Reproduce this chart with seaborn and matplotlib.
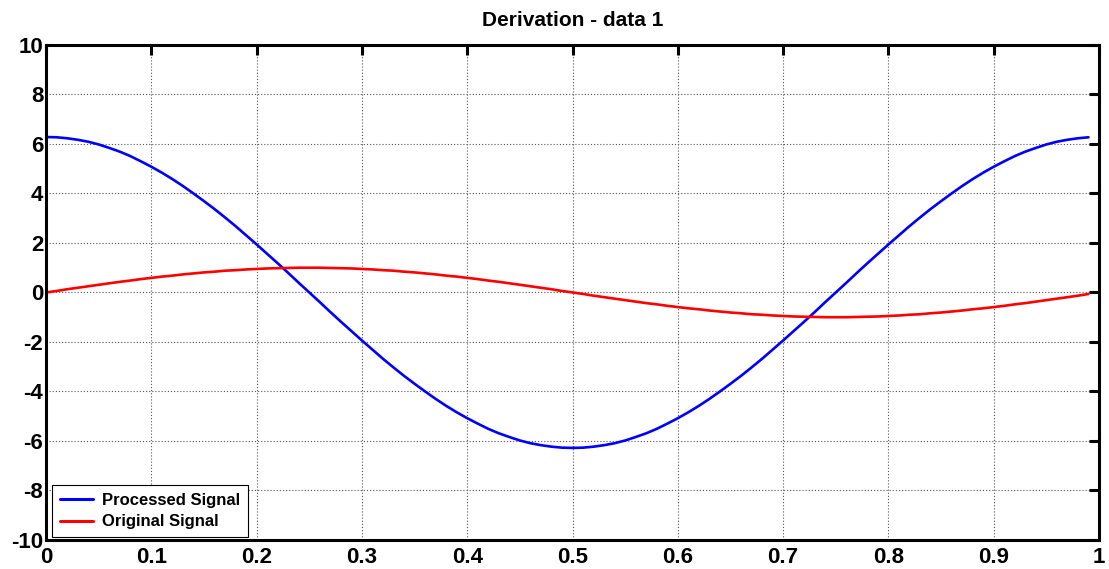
import numpy as np
import pandas as pd
import matplotlib
matplotlib.use("Agg")
import matplotlib.pyplot as plt
import seaborn as sns

# Sample times (s)
time = [0.00, 0.01, 0.02, 0.03, 0.04, 0.05, 0.06, 0.07, 0.08, 0.09,
        0.10, 0.11, 0.12, 0.13, 0.14, 0.15, 0.16, 0.17, 0.18, 0.19,
        0.20, 0.21, 0.22, 0.23, 0.24, 0.25, 0.26, 0.27, 0.28, 0.29,
        0.30, 0.31, 0.32, 0.33, 0.34, 0.35, 0.36, 0.37, 0.38, 0.39,
        0.40, 0.41, 0.42, 0.43, 0.44, 0.45, 0.46, 0.47, 0.48, 0.49,
        0.50, 0.51, 0.52, 0.53, 0.54, 0.55, 0.56, 0.57, 0.58, 0.59,
        0.60, 0.61, 0.62, 0.63, 0.64, 0.65, 0.66, 0.67, 0.68, 0.69,
        0.70, 0.71, 0.72, 0.73, 0.74, 0.75, 0.76, 0.77, 0.78, 0.79,
        0.80, 0.81, 0.82, 0.83, 0.84, 0.85, 0.86, 0.87, 0.88, 0.89,
        0.90, 0.91, 0.92, 0.93, 0.94, 0.95, 0.96, 0.97, 0.98, 0.99]

# Input signal
original = [0.00, 0.06, 0.13, 0.19, 0.25, 0.31, 0.37, 0.43, 0.48, 0.54,
            0.59, 0.64, 0.68, 0.73, 0.77, 0.81, 0.84, 0.88, 0.90, 0.93,
            0.95, 0.97, 0.98, 0.99, 1.00, 1.00, 1.00, 0.99, 0.98, 0.97,
            0.95, 0.93, 0.90, 0.88, 0.84, 0.81, 0.77, 0.73, 0.68, 0.64,
            0.59, 0.54, 0.48, 0.43, 0.37, 0.31, 0.25, 0.19, 0.13, 0.06,
            0.00, -0.06, -0.13, -0.19, -0.25, -0.31, -0.37, -0.43, -0.48, -0.54,
            -0.59, -0.64, -0.68, -0.73, -0.77, -0.81, -0.84, -0.88, -0.90, -0.93,
            -0.95, -0.97, -0.98, -0.99, -1.00, -1.00, -1.00, -0.99, -0.98, -0.97,
            -0.95, -0.93, -0.90, -0.88, -0.84, -0.81, -0.77, -0.73, -0.68, -0.64,
            -0.59, -0.54, -0.48, -0.43, -0.37, -0.31, -0.25, -0.19, -0.13, -0.06]

# Derivative of the input signal
processed = [6.28, 6.27, 6.23, 6.17, 6.09, 5.98, 5.84, 5.69, 5.51, 5.30,
             5.08, 4.84, 4.58, 4.30, 4.00, 3.69, 3.37, 3.03, 2.68, 2.31,
             1.94, 1.56, 1.18, 0.79, 0.39, 0.00, -0.39, -0.79, -1.18, -1.56,
             -1.94, -2.31, -2.68, -3.03, -3.37, -3.69, -4.00, -4.30, -4.58, -4.84,
             -5.08, -5.30, -5.51, -5.69, -5.84, -5.98, -6.09, -6.17, -6.23, -6.27,
             -6.28, -6.27, -6.23, -6.17, -6.09, -5.98, -5.84, -5.69, -5.51, -5.30,
             -5.08, -4.84, -4.58, -4.30, -4.00, -3.69, -3.37, -3.03, -2.68, -2.31,
             -1.94, -1.56, -1.18, -0.79, -0.39, 0.00, 0.39, 0.79, 1.18, 1.56,
             1.94, 2.31, 2.68, 3.03, 3.37, 3.69, 4.00, 4.30, 4.58, 4.84,
             5.08, 5.30, 5.51, 5.69, 5.84, 5.98, 6.09, 6.17, 6.23, 6.27]

series_names = ["Processed Signal", "Original Signal"]
series_colors = ["#0000ff", "#ff0000"]
x_ticks = [0, 0.1, 0.2, 0.3, 0.4, 0.5, 0.6, 0.7, 0.8, 0.9, 1]
x_tick_labels = ["0", "0.1", "0.2", "0.3", "0.4", "0.5", "0.6", "0.7", "0.8", "0.9", "1"]
y_ticks = [-10, -8, -6, -4, -2, 0, 2, 4, 6, 8, 10]
title = "Derivation - data 1"

df = pd.DataFrame({
    "t": time * 2,
    "value": processed + original,
    "signal": [series_names[0]] * len(time) + [series_names[1]] * len(time),
})

sns.set_style("white")
plt.rcParams["font.family"] = ["Liberation Sans", "DejaVu Sans"]
plt.rcParams["font.weight"] = "bold"
plt.rcParams["axes.unicode_minus"] = False
plt.rcParams["text.color"] = "black"

fig = plt.figure(figsize=(11.09, 5.69), dpi=100)
ax_w, ax_h = 0.9495, 0.870
ax = fig.add_axes([0.0415, 0.051, ax_w, ax_h])

sns.lineplot(data=df, x="t", y="value", hue="signal", hue_order=series_names,
             palette=series_colors, linewidth=1.9, ax=ax, legend=True)

ax.set_xlim(0, 1)
ax.set_ylim(-10, 10)
ax.set_xticks(x_ticks)
ax.set_xticklabels(x_tick_labels)
ax.set_yticks(y_ticks)
ax.set_xlabel("")
ax.set_ylabel("")
ax.set_title(title, fontsize=15, fontweight="bold", color="black", pad=14)

ax.grid(True, linestyle=(0, (1, 1.8)), color="#555555", linewidth=0.8)
for sp in ax.spines.values():
    sp.set_visible(True)
    sp.set_color("black")
    sp.set_linewidth(2.2)

ax.tick_params(axis="both", which="major", direction="in", length=7, width=2.2,
               labelsize=16, top=True, right=True, colors="black")
ax.tick_params(axis="x", pad=5)
ax.tick_params(axis="y", pad=2)
for lab in ax.get_xticklabels() + ax.get_yticklabels():
    lab.set_fontweight("bold")

# legend anchored a few pixels inside the lower-left corner
fig_w_px, fig_h_px = 1109, 569
leg = ax.legend(loc="lower left", fontsize=12, frameon=True, fancybox=False,
                edgecolor="black", framealpha=1, borderaxespad=0,
                bbox_to_anchor=(6 / (ax_w * fig_w_px), 3 / (ax_h * fig_h_px)),
                handlelength=2.0, handletextpad=0.55, borderpad=0.45,
                labelspacing=0.4)
leg.get_frame().set_linewidth(0.8)
for line in leg.get_lines():
    line.set_linewidth(2.2)
for txt in leg.get_texts():
    txt.set_fontweight("bold")

fig.savefig("out.png", dpi=100)
